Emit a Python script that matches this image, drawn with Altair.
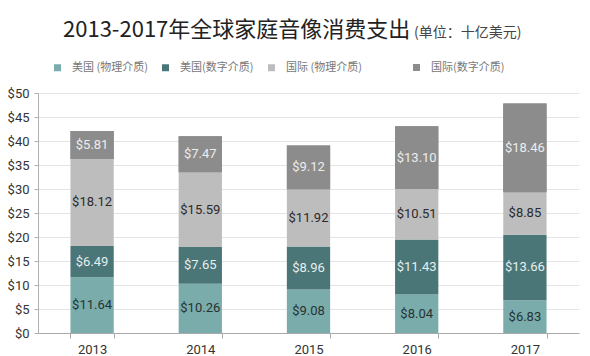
import altair as alt
import pandas as pd

years = ["2013", "2014", "2015", "2016", "2017"]
categories = ["美国 (物理介质)", "美国(数字介质)", "国际 (物理介质)", "国际(数字介质)"]
us_physical = [11.64, 10.26, 9.08, 8.04, 6.83]
us_digital = [6.49, 7.65, 8.96, 11.43, 13.66]
intl_physical = [18.12, 15.59, 11.92, 10.51, 8.85]
intl_digital = [5.81, 7.47, 9.12, 13.10, 18.46]
bar_colors = ["#7aacab", "#4b7678", "#bdbdbd", "#8c8c8c"]
label_colors = ["#263332", "#e4eeee", "#2b2b2b", "#ececec"]
y_ticks = [0, 5, 10, 15, 20, 25, 30, 35, 40, 45, 50]
title_main = "2013-2017年全球家庭音像消费支出"
title_unit = "(单位：十亿美元)"

series = [us_physical, us_digital, intl_physical, intl_digital]
rows = []
for i, yr in enumerate(years):
    for j, cat in enumerate(categories):
        v = series[j][i]
        rows.append(dict(year=yr, cat=cat, order=j, value=v,
                         label=f"${v:.2f}", tcolor=label_colors[j]))
df = pd.DataFrame(rows)

base = alt.Chart(df).transform_stack(
    stack="value", groupby=["year"], as_=["y0", "y1"],
    sort=[alt.SortField("order", order="ascending")]
).transform_calculate(mid="(datum.y0 + datum.y1) / 2")

x_axis = alt.Axis(title=None, labelAngle=0, tickBand="extent",
                  tickSize=5, tickColor="#aaaaaa", domainColor="#aaaaaa",
                  labelFont="Roboto", labelFontSize=13, labelColor="#333333",
                  labelPadding=5, grid=False)
x_scale = alt.Scale(paddingInner=0.6, paddingOuter=0.3)
y_axis = alt.Axis(title=None, values=y_ticks, labelExpr="'$' + datum.value",
                  labelOverlap=False,
                  gridColor="#e4e4e4", domainColor="#b0b0b0", tickColor="#b0b0b0",
                  tickSize=4, labelPadding=5, labelFont="Roboto",
                  labelFontSize=13, labelColor="#333333")
y_scale = alt.Scale(domain=[0, 50], nice=False)

legend_style = dict(title=None, orient="none", direction="horizontal",
                    symbolType="square", symbolSize=49, symbolStrokeWidth=0,
                    labelFont="Noto Sans CJK SC", labelFontSize=11,
                    labelColor="#777777", labelOffset=9, columnPadding=12)

bars = base.mark_bar().encode(
    x=alt.X("year:N", sort=years, scale=x_scale, axis=x_axis),
    y=alt.Y("y0:Q", scale=y_scale, axis=y_axis),
    y2="y1:Q",
    color=alt.Color("cat:N", scale=alt.Scale(domain=categories, range=bar_colors),
                    legend=alt.Legend(values=categories[:3], legendX=14, legendY=-31,
                                      **legend_style)),
)

bars_top = base.transform_filter(alt.datum.order == 3).mark_bar().encode(
    x=alt.X("year:N", sort=years, scale=x_scale, axis=x_axis),
    y=alt.Y("y0:Q", scale=y_scale, axis=y_axis),
    y2="y1:Q",
    color=alt.Color("cat:N", scale=alt.Scale(domain=categories[3:], range=bar_colors[3:]),
                    legend=alt.Legend(legendX=373, legendY=-31, **legend_style)),
)

texts = base.mark_text(font="Roboto", fontSize=13).encode(
    x=alt.X("year:N", sort=years, scale=x_scale, axis=x_axis),
    y=alt.Y("mid:Q", scale=y_scale, axis=y_axis),
    text="label:N",
    color=alt.Color("tcolor:N", scale=None),
)

t1 = alt.Chart(pd.DataFrame({"t": [title_main]})).mark_text(
    font="Noto Sans CJK SC", fontSize=22, align="left", baseline="alphabetic",
    color="#222222").encode(x=alt.value(25), y=alt.value(-56), text="t:N")
t2 = alt.Chart(pd.DataFrame({"t": [title_unit]})).mark_text(
    font="Noto Sans CJK SC", fontSize=14, align="left", baseline="alphabetic",
    color="#444444").encode(x=alt.value(376), y=alt.value(-56), text="t:N")

chart = alt.layer(bars, bars_top, texts, t1, t2).resolve_scale(color="independent").properties(
    width=541, height=240,
    autosize=alt.AutoSizeParams(type="none"),
    padding={"left": 38, "top": 93, "right": 11, "bottom": 23},
).configure_view(stroke=None)

chart.save("out.html", embed_options={"renderer": "svg", "actions": False})
